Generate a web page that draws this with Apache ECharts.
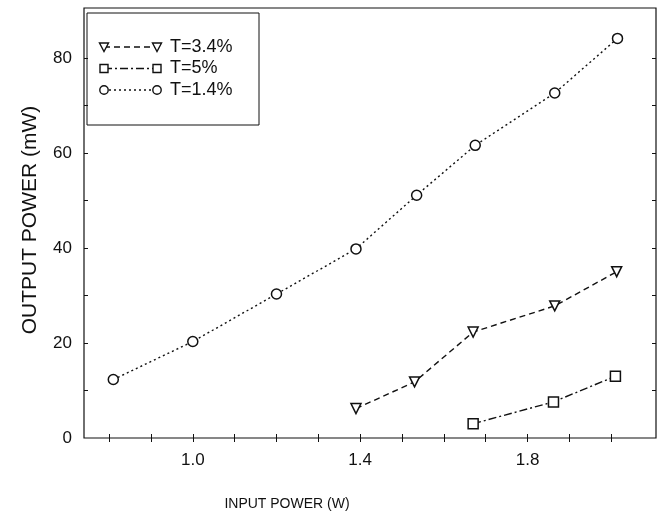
<!DOCTYPE html>
<html>
<head>
<meta charset="utf-8">
<script src="https://cdn.jsdelivr.net/npm/echarts@6/dist/echarts.min.js"></script>
<style>
  html, body { margin: 0; padding: 0; background: #fff; }
  #main { width: 661px; height: 514px; }
</style>
</head>
<body>
<div id="main"></div>
<script>
// series names (legend order)
const seriesNames = ["T=3.4%", "T=5%", "T=1.4%"];

// T=3.4%
const inputT34 = [1.39, 1.53, 1.67, 1.865, 2.013];
const outputT34 = [6.2, 11.8, 22.3, 27.8, 35.0];
// T=5%
const inputT5 = [1.67, 1.862, 2.01];
const outputT5 = [3.0, 7.6, 13.0];
// T=1.4%
const inputT14 = [0.81, 1.0, 1.2, 1.39, 1.535, 1.675, 1.865, 2.015];
const outputT14 = [12.3, 20.3, 30.3, 39.8, 51.1, 61.6, 72.6, 84.1];

// ticks and labels
const xTicks = [0.8, 0.9, 1.0, 1.1, 1.2, 1.3, 1.4, 1.5, 1.6, 1.7, 1.8, 1.9, 2.0];
const xLabels = [1.0, 1.4, 1.8];
const yTicks = [10, 20, 30, 40, 50, 60, 70, 80];
const yLabels = [0, 20, 40, 60, 80];

const ink = "#111";
const font = "'Liberation Sans', Arial, sans-serif";

const zip = (xs, ys) => xs.map((x, i) => [x, ys[i]]);

const myChart = echarts.init(document.getElementById("main"));

function xAxisOf(pos, withLabels) {
  return {
    type: "value",
    position: pos,
    min: 0.74,
    max: 2.107,
    axisLine: { show: false },
    splitLine: { show: false },
    axisTick: {
      show: true,
      inside: true,
      length: 4,
      customValues: xTicks,
      lineStyle: { color: ink, width: 1 },
    },
    axisLabel: {
      show: withLabels,
      customValues: xLabels,
      margin: 14,
      color: ink,
      fontSize: 17,
      fontFamily: font,
      formatter: (v) => v.toFixed(1),
    },
  };
}

function yAxisOf(pos, withLabels) {
  return {
    type: "value",
    position: pos,
    min: 0,
    max: 90.5,
    axisLine: { show: false },
    splitLine: { show: false },
    axisTick: {
      show: true,
      inside: true,
      length: 4,
      customValues: yTicks,
      lineStyle: { color: ink, width: 1 },
    },
    axisLabel: {
      show: withLabels,
      customValues: yLabels,
      margin: 12,
      color: ink,
      fontSize: 17,
      fontFamily: font,
    },
  };
}

function lineSeries(name, data, symbol, rotate, dash) {
  return {
    name: name,
    type: "line",
    data: data,
    symbol: symbol,
    symbolSize: 10,
    symbolRotate: rotate,
    showAllSymbol: true,
    itemStyle: { color: "#fff", borderColor: ink, borderWidth: 1.5 },
    lineStyle: { color: ink, width: 1.4, type: dash },
    xAxisIndex: 0,
    yAxisIndex: 0,
    z: 3,
  };
}

// legend sample rows drawn as graphic (line with marker at both ends)
const legendRows = [
  { dash: [6, 4], symbol: "triangle" },
  { dash: [8, 3, 2, 3], symbol: "rect" },
  { dash: [2, 3], symbol: "circle" },
];

function marker(kind, cx, cy) {
  const st = { fill: "#fff", stroke: ink, lineWidth: 1.4 };
  if (kind === "circle") {
    return { type: "circle", shape: { cx: cx, cy: cy, r: 4.2 }, style: st };
  }
  if (kind === "rect") {
    return { type: "rect", shape: { x: cx - 4, y: cy - 4, width: 8, height: 8 }, style: st };
  }
  return {
    type: "polygon",
    shape: { points: [[cx - 4.5, cy - 4], [cx + 4.5, cy - 4], [cx, cy + 4.5]] },
    style: st,
  };
}

const legendEls = [
  {
    type: "rect",
    shape: { x: 87, y: 13, width: 172, height: 112 },
    style: { fill: "#fff", stroke: ink, lineWidth: 1 },
  },
];
const rowY = [47, 68.5, 90];
legendRows.forEach((row, i) => {
  const y = rowY[i];
  legendEls.push({
    type: "line",
    shape: { x1: 104, y1: y, x2: 157, y2: y },
    style: { stroke: ink, lineWidth: 1.4, lineDash: row.dash },
  });
  legendEls.push(marker(row.symbol, 104, y));
  legendEls.push(marker(row.symbol, 157, y));
  legendEls.push({
    type: "text",
    x: 170,
    y: y,
    style: {
      text: seriesNames[i],
      fill: ink,
      font: "18px " + font,
      textVerticalAlign: "middle",
    },
  });
});

const option = {
  animation: false,
  backgroundColor: "#fff",
  grid: {
    left: 84,
    right: 5,
    top: 8,
    bottom: 76,
    show: true,
    borderColor: ink,
    borderWidth: 1.2,
    backgroundColor: "transparent",
  },
  xAxis: [xAxisOf("bottom", true), xAxisOf("top", false)],
  yAxis: [yAxisOf("left", true), yAxisOf("right", false)],
  series: [
    lineSeries(seriesNames[0], zip(inputT34, outputT34), "triangle", 180, [6, 4]),
    lineSeries(seriesNames[1], zip(inputT5, outputT5), "rect", 0, [8, 3, 2, 3]),
    lineSeries(seriesNames[2], zip(inputT14, outputT14), "circle", 0, [2, 3]),
  ],
  graphic: [
    { type: "group", children: legendEls, z: 10 },
    {
      type: "text",
      x: 287,
      y: 504,
      style: {
        text: "INPUT POWER (W)",
        fill: ink,
        font: "14px " + font,
        textAlign: "center",
        textVerticalAlign: "middle",
      },
    },
    {
      type: "text",
      x: 30,
      y: 220,
      rotation: Math.PI / 2,
      style: {
        text: "OUTPUT POWER (mW)",
        fill: ink,
        font: "21px " + font,
        textAlign: "center",
        textVerticalAlign: "middle",
      },
    },
  ],
};

myChart.setOption(option);
</script>
</body>
</html>
